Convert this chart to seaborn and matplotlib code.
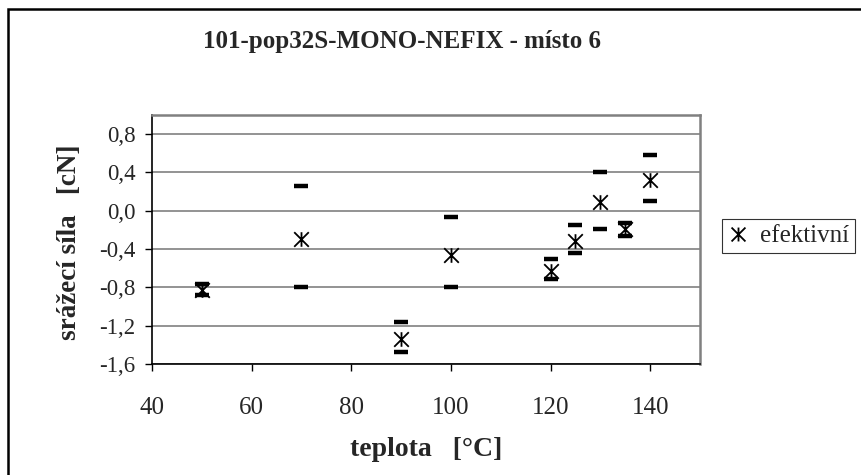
import numpy as np
import pandas as pd
import matplotlib
matplotlib.use("Agg")
import matplotlib.pyplot as plt
import seaborn as sns
from matplotlib.lines import Line2D
from matplotlib.patches import Rectangle
from matplotlib.path import Path

# data
teplota = [50, 70, 90, 100, 120, 125, 130, 135, 140]
efektivni = [-0.83, -0.29, -1.34, -0.46, -0.63, -0.32, 0.09, -0.19, 0.32]
horni = [-0.76, 0.26, -1.16, -0.07, -0.50, -0.15, 0.41, -0.13, 0.58]
dolni = [-0.88, -0.80, -1.47, -0.80, -0.71, -0.44, -0.19, -0.26, 0.10]

df = pd.DataFrame({"teplota": teplota, "efektivni": efektivni,
                   "horni": horni, "dolni": dolni})

sns.set_theme(style="white")
plt.rcParams["font.family"] = ["Liberation Serif", "DejaVu Serif"]

# Excel-like star: X with a vertical stroke
star = Path([(-1, -1), (1, 1), (-1, 1), (1, -1), (0, -1), (0, 1)],
            [Path.MOVETO, Path.LINETO, Path.MOVETO, Path.LINETO,
             Path.MOVETO, Path.LINETO])

fig = plt.figure(figsize=(8.61, 4.75), dpi=100)
ax = fig.add_axes([0.1765, 0.2337, 0.6365, 0.5242])

for col in ["horni", "dolni"]:
    sns.scatterplot(data=df, x="teplota", y=col, marker="_", s=95,
                    color="black", edgecolor="black", linewidth=3.2,
                    ax=ax, zorder=3, legend=False)
sns.scatterplot(data=df, x="teplota", y="efektivni", marker=star, s=110,
                color="black", edgecolor="black", linewidth=1.3,
                ax=ax, zorder=4, legend=False)

ax.set_xlim(40, 150)
ax.set_ylim(-1.6, 1.0)
ax.set_xticks(np.arange(40, 141, 20))
yt = np.arange(-1.6, 0.81, 0.4)
ax.set_yticks(yt)
ax.set_yticklabels([f"{v:.1f}".replace(".", ",").replace("-0,0", "0,0") for v in yt])
ax.tick_params(axis="x", labelsize=18, direction="out", length=5, width=1,
               color="black", pad=19, bottom=True)
ax.tick_params(axis="y", labelsize=16.5, direction="out", length=5, width=1,
               color="black", pad=7, left=True)
ax.yaxis.grid(True, color="#808080", linewidth=1.2)
ax.xaxis.grid(False)
ax.set_axisbelow(True)

for s in ["left", "bottom"]:
    ax.spines[s].set_color("black")
    ax.spines[s].set_linewidth(1.2)
for s in ["right", "top"]:
    ax.spines[s].set_color("#808080")
    ax.spines[s].set_linewidth(1.8)

ax.set_xlabel("teplota   [°C]", fontsize=20, fontweight="bold", va="top")
ax.xaxis.set_label_coords(0.5, -0.295)
ax.set_ylabel("srážecí síla   [cN]", fontsize=19.5, fontweight="bold")
ax.yaxis.set_label_coords(-0.128, 0.49)

fig.text(0.467, 0.913, "101-pop32S-MONO-NEFIX - místo 6", ha="center",
         va="center", fontsize=18, fontweight="bold")

handle = Line2D([], [], marker=star, color="black", linestyle="none",
                markersize=10, markeredgewidth=1.3)
leg = fig.legend([handle], ["efektivní"], loc="center left",
                 bbox_to_anchor=(0.839, 0.503), frameon=True, fancybox=False,
                 fontsize=18, handlelength=0.8, handletextpad=0.5,
                 borderpad=0.22, borderaxespad=0)
leg.get_frame().set_edgecolor("black")
leg.get_frame().set_linewidth(0.8)

# outer chart border
fig.patches.append(Rectangle((8 / 861, -0.1), 1.2, (475 - 9) / 475 + 0.1,
                             transform=fig.transFigure, fill=False,
                             edgecolor="black", linewidth=1.8))

fig.savefig("out.png", dpi=100, facecolor="white")
